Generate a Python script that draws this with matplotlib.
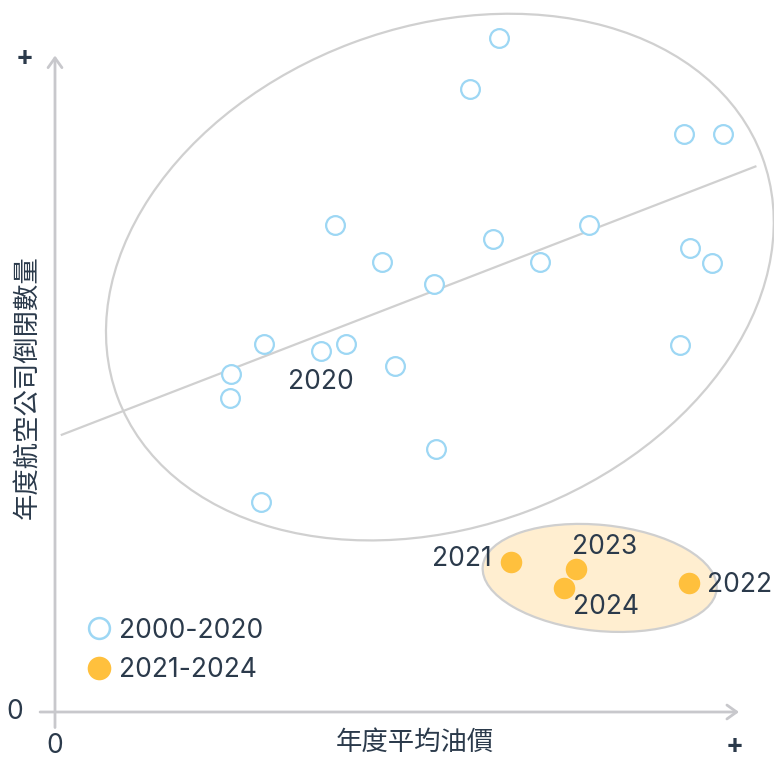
import numpy as np
import matplotlib.pyplot as plt
from matplotlib.patches import Ellipse
from matplotlib.lines import Line2D
from matplotlib.transforms import ScaledTranslation

# 2000-2020: oil price index vs airline closures index (0..100 scale)
old_x = [65.3, 61.0, 92.5, 98.2, 41.2, 64.4, 78.5, 48.1, 71.3, 93.4, 96.6,
         55.7, 30.7, 39.1, 42.8, 25.9, 25.7, 50.0, 91.9, 56.0, 30.3]
old_y = [103.1, 95.3, 88.4, 88.4, 74.5, 72.3, 74.5, 68.8, 68.8, 70.9, 68.7,
         65.4, 56.3, 55.2, 56.3, 51.7, 48.0, 52.9, 56.1, 40.2, 32.1]

# 2021-2024
new_years = ["2021", "2022", "2023", "2024"]
new_x = [67.1, 93.2, 76.6, 74.9]
new_y = [22.9, 19.7, 21.9, 19.0]

# point labelled in the old group
label_2020 = (39.1, 55.2)

TEXT = "#2b3a4b"
GREY = "#c8c8cc"
BLUE = "#9dd7f4"
ORANGE = "#ffc03d"
CJK = ["Noto Sans CJK TC", "DejaVu Sans"]
NUM = ["Inter", "DejaVu Sans"]
FS = 19

fig = plt.figure(figsize=(7.74, 7.6), dpi=100)
ax = fig.add_axes([0, 0, 1, 1])
ax.set_xlim(-55 / 6.8, 719 / 6.8)
ax.set_ylim(-48 / 6.54, 712 / 6.54)
ax.axis("off")

# ellipses (sizes in inches, centred on data points)
def ellipse(cx, cy, w, h, angle, **kw):
    tr = fig.dpi_scale_trans + ScaledTranslation(cx, cy, ax.transData)
    e = Ellipse((0, 0), w, h, angle=angle, transform=tr, **kw)
    ax.add_patch(e)

ellipse(56.6, 66.5, 6.88, 5.0, 20.5, facecolor="none", edgecolor="#d0d0d0", lw=1.6, zorder=1)
ellipse(80.1, 20.5, 2.35, 1.06, -5.7, facecolor="#ffeed0", edgecolor="#cfcfcf", lw=1.6, zorder=1)

# regression line over 2000-2020
b, a = np.polyfit(old_x, old_y, 1)
xs = np.array([1.0, 103.0])
ax.plot(xs, a + b * xs, color="#d0d0d0", lw=1.6, zorder=2)

# axes with open arrows
ax.annotate("", xy=(101.0, 0), xytext=(-2.6, 0),
            arrowprops=dict(arrowstyle="->,head_length=0.7,head_width=0.5", color=GREY, lw=2.0))
ax.annotate("", xy=(0, 100.8), xytext=(0, -2.8),
            arrowprops=dict(arrowstyle="->,head_length=0.7,head_width=0.5", color=GREY, lw=2.0))

ax.text(-40 / 6.8, 0, "0", fontsize=FS, color=TEXT, family=NUM, ha="center", va="center")
ax.text(0, -34 / 6.54, "0", fontsize=FS, color=TEXT, family=NUM, ha="center", va="center")
ax.text(-30 / 6.8, 100, "+", fontsize=FS, color=TEXT, family=NUM, fontweight="bold",
        ha="center", va="center")
ax.text(100, -34 / 6.54, "+", fontsize=FS, color=TEXT, family=NUM, fontweight="bold",
        ha="center", va="center")

ax.text(360 / 6.8, -30 / 6.54, "年度平均油價", fontsize=19, color=TEXT, family=CJK,
        ha="center", va="center")
ax.text(-27 / 6.8, 325 / 6.54, "年度航空公司倒閉數量", fontsize=19, color=TEXT, family=CJK,
        ha="center", va="center", rotation=90)

ax.plot(old_x, old_y, "o", ms=13.5, mfc="white", mec=BLUE, mew=1.6, zorder=3)
ax.plot(new_x, new_y, "o", ms=15.5, mfc=ORANGE, mec=ORANGE, mew=0, zorder=3)

# year labels (offsets in points)
offsets = {"2021": (-14, 2, "right"), "2022": (13, -1.5, "left"),
           "2023": (21, 16, "center"), "2024": (30, -14, "center")}
for yr, x, y in zip(new_years, new_x, new_y):
    dx, dy, ha = offsets[yr]
    ax.annotate(yr, (x, y), xytext=(dx, dy), textcoords="offset points",
                ha=ha, va="center", fontsize=FS, color=TEXT, family=NUM, zorder=4)
ax.annotate("2020", label_2020, xytext=(0, -22), textcoords="offset points",
            ha="center", va="center", fontsize=FS, color=TEXT, family=NUM, zorder=4)

handles = [Line2D([], [], ls="", marker="o", ms=15, mfc="white", mec=BLUE, mew=1.8),
           Line2D([], [], ls="", marker="o", ms=17, mfc=ORANGE, mec=ORANGE, mew=0)]
leg = ax.legend(handles, ["2000-2020", "2021-2024"], loc="upper left",
                bbox_to_anchor=(74 / 774, 1 - 607 / 760), frameon=False,
                prop=dict(family=NUM, size=FS), handletextpad=0.2, labelspacing=0.5,
                handlelength=1.1, borderaxespad=0)
for t in leg.get_texts():
    t.set_color(TEXT)

fig.savefig("out.png", dpi=100)
